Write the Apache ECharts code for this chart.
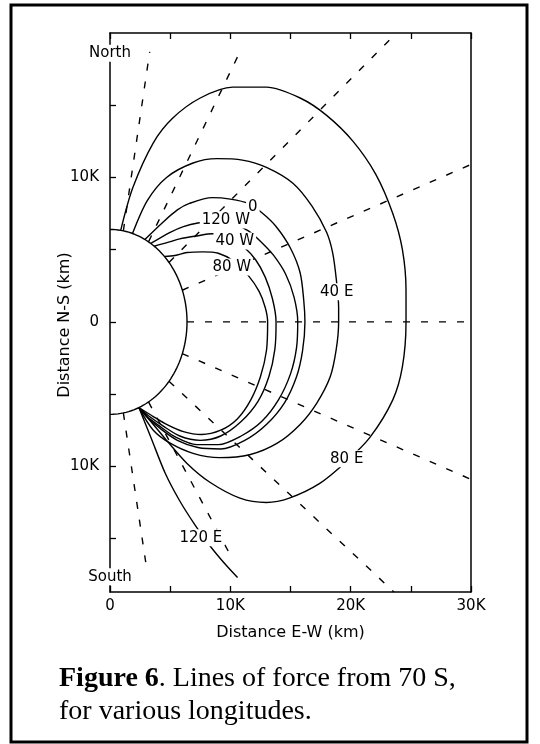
<!DOCTYPE html>
<html><head><meta charset="utf-8">
<script src="https://cdn.jsdelivr.net/npm/echarts@6/dist/echarts.min.js"></script>
<style>html,body{margin:0;padding:0;background:#fff}#c{width:540px;height:744px}</style>
</head><body><div id="c"></div>
<script>
// ---- data (thousands of km) ----
const xTickValues = [0, 5, 10, 15, 20, 25, 30];
const xTickLabels = ['0', '', '10K', '', '20K', '', '30K'];
const yTickValues = [-15, -10, -5, 0, 5, 10, 15];
const yLabelValues = [-10, 0, 10];
const yLabelTexts = ['10K', '0', '10K'];
const planetRadius = 6.4;

const line80E = [[0.89,6.34],[1.9,9.3],[3.6,12.4],[5.2,14.1],[7.5,15.5],[10.2,16.25],[13.0,16.25],[15.8,15.5],[18.0,14.3],[20.2,12.5],[22.1,10.2],[23.5,7.5],[24.3,5.0],[24.6,2.2],[24.6,0],[24.3,-3.1],[23.5,-5.4],[21.6,-8.0],[19.6,-9.7],[17.4,-11.2],[14.9,-12.2],[13.0,-12.5],[10.8,-12.2],[8.3,-11.1],[6.4,-9.8],[4.7,-8.2],[3.6,-7.1],[2.4,-5.93]];
const line40E = [[1.87,6.12],[3.1,8.4],[4.7,10.0],[6.9,11.0],[8.9,11.3],[11.0,11.2],[13.0,10.7],[15.2,9.6],[16.8,8.0],[18.0,6.2],[18.5,4.8],[18.8,3.0],[19.0,1.0],[19.0,0],[18.8,-1.9],[18.3,-3.8],[17.2,-5.6],[15.8,-7.1],[13.9,-8.4],[11.6,-9.2],[9.1,-9.4],[6.9,-9.1],[5.0,-8.4],[3.6,-7.5],[2.4,-5.93]];
const line0 = [[2.9,5.7],[4.4,6.9],[5.6,7.75],[6.6,8.2],[8.5,8.6],[10.0,8.5],[11.5,8.2],[12.7,7.5],[13.8,6.6],[15.0,5.1],[15.8,3.4],[16.1,1.5],[16.2,0],[16.0,-2.0],[15.5,-3.8],[14.5,-5.6],[13.0,-7.1],[11.2,-8.2],[9.2,-8.8],[7.3,-8.7],[5.6,-8.2],[4.2,-7.4],[3.1,-6.6],[2.4,-5.93]];
const line120W = [[3.39,5.43],[5.0,6.2],[6.1,6.6],[7.3,6.85],[8.7,6.95],[10.2,6.8],[11.5,6.3],[12.6,5.5],[13.6,4.6],[14.6,3.3],[15.3,1.7],[15.6,0],[15.5,-1.8],[15.0,-3.6],[14.0,-5.4],[12.6,-6.9],[10.9,-7.9],[9.0,-8.5],[7.2,-8.5],[5.5,-8.0],[4.1,-7.2],[3.0,-6.5],[2.4,-5.93]];
const line40W = [[3.67,5.24],[4.8,5.5],[5.8,5.75],[7.2,5.95],[8.5,6.1],[9.9,5.9],[11.1,5.2],[12.1,4.3],[12.9,3.1],[13.5,1.6],[13.8,0],[13.7,-1.9],[13.2,-3.8],[12.3,-5.5],[10.9,-6.9],[9.2,-7.9],[7.5,-8.2],[5.8,-7.9],[4.4,-7.2],[3.2,-6.5],[2.4,-5.93]];
const line80W = [[4.53,4.53],[5.4,4.6],[6.4,4.8],[7.7,4.85],[9.0,4.75],[10.3,4.2],[11.5,3.2],[12.4,2.1],[12.9,1.0],[13.1,0],[13.0,-2.0],[12.5,-3.8],[11.7,-5.4],[10.6,-6.7],[9.2,-7.5],[7.6,-7.8],[6.1,-7.6],[4.7,-7.1],[3.5,-6.5],[2.4,-5.93]];
const line120E = [[2.4,-5.93],[3.4,-8.0],[4.6,-10.5],[5.8,-12.4],[7.1,-14.1],[8.4,-15.6],[9.6,-16.8],[10.6,-17.7]];

const curveNames = ['80 E', '40 E', '0', '120 W', '40 W', '80 W', '120 E'];
const curveLabelPos = [[19.67,-9.48],[18.84,2.08],[11.87,7.96],[9.63,7.06],[10.37,5.6],[10.12,3.8],[7.55,-14.95]];
const poleNames = ['North', 'South'];
const poleLabelPos = [[0, 18.6], [0, -17.65]];

// radial latitude lines: [start on surface, end]
const radialLines = [
  [[1.11,6.3],[3.3,18.7]],
  [[3.2,5.54],[10.95,18.96]],
  [[4.9,4.11],[23.8,20.0]],
  [[6.0,2.19],[30,10.9]],
  [[6.4,0],[30,0]],
  [[6.0,-2.19],[30,-10.9]],
  [[4.9,-4.11],[23.6,-18.7]],
  [[3.2,-5.54],[10.1,-16.3]],
  [[1.11,-6.3],[3.07,-17.2]]
];

const FONT = 'DejaVu Sans';
const fieldLines = [line80E, line40E, line0, line120W, line40W, line80W, line120E];

const series = [];
radialLines.forEach(function (seg) {
  series.push({ type: 'line', data: seg, showSymbol: false, silent: true,
    lineStyle: { color: '#000', width: 1.4, type: [7, 11] }, z: 2 });
});
fieldLines.forEach(function (d) {
  series.push({ type: 'line', data: d, showSymbol: false, smooth: 0.3, silent: true,
    lineStyle: { color: '#000', width: 1.4 }, z: 3 });
});
series.push({
  type: 'custom', data: [[0, 0, planetRadius]], encode: { x: 0, y: 1 }, z: 4, silent: true,
  renderItem: function (params, api) {
    const r = api.value(2);
    const pts = [];
    for (let a = -90; a <= 90; a += 2) {
      const t = a * Math.PI / 180;
      pts.push(api.coord([r * Math.cos(t), r * Math.sin(t)]));
    }
    return { type: 'polyline', shape: { points: pts }, style: { stroke: '#000', lineWidth: 1.4, fill: null } };
  }
});
const labelStyle = { show: true, position: 'inside', formatter: '{b}', color: '#000', fontFamily: FONT, fontSize: 15,
  backgroundColor: '#fff', padding: [1, 2], textBorderWidth: 0, textBorderColor: 'transparent', opacity: 1 };
series.push({
  type: 'scatter', z: 10, symbolSize: 1, itemStyle: { color: '#fff', opacity: 1 }, silent: true,
  data: curveLabelPos.map(function (p, i) { return { value: p, name: curveNames[i] }; }),
  label: labelStyle
});
series.push({
  type: 'scatter', z: 10, symbolSize: 1, itemStyle: { color: '#fff', opacity: 1 }, silent: true, clip: false,
  data: poleLabelPos.map(function (p, i) { return { value: p, name: poleNames[i] }; }),
  label: labelStyle
});

const axisLineStyle = { show: true, onZero: false, lineStyle: { color: '#000', width: 1.5 } };
const chart = echarts.init(document.getElementById('c'), null, { renderer: 'canvas' });
chart.setOption({
  animation: false,
  backgroundColor: '#fff',
  grid: { left: 110, top: 33, width: 361, height: 559 },
  xAxis: [{
    type: 'value', min: 0, max: 30, interval: 5, position: 'bottom',
    axisLine: axisLineStyle, splitLine: { show: false },
    axisTick: { show: true, inside: true, length: 6, lineStyle: { color: '#000', width: 1.3 } },
    axisLabel: { color: '#000', fontFamily: FONT, fontSize: 15, margin: 7,
      formatter: function (v) { const i = xTickValues.indexOf(v); return i >= 0 ? xTickLabels[i] : ''; } },
    name: 'Distance E-W (km)', nameLocation: 'middle', nameGap: 33,
    nameTextStyle: { color: '#000', fontFamily: FONT, fontSize: 16 }
  }, {
    type: 'value', min: 0, max: 30, interval: 5, position: 'top',
    axisLine: axisLineStyle, splitLine: { show: false }, axisLabel: { show: false },
    axisTick: { show: true, inside: true, length: 6, lineStyle: { color: '#000', width: 1.3 } }
  }],
  yAxis: [{
    type: 'value', min: -18.7, max: 20, position: 'left',
    axisLine: axisLineStyle, splitLine: { show: false },
    axisTick: { show: true, inside: true, length: 6, customValues: yTickValues, lineStyle: { color: '#000', width: 1.3 } },
    axisLabel: { color: '#000', fontFamily: FONT, fontSize: 15, margin: 11, customValues: yLabelValues,
      formatter: function (v) { const i = yLabelValues.indexOf(v); return i >= 0 ? yLabelTexts[i] : ''; } }
  }, {
    type: 'value', min: -18.7, max: 20, position: 'right',
    axisLine: axisLineStyle, splitLine: { show: false }, axisLabel: { show: false }, axisTick: { show: false }
  }],
  graphic: [
    { type: 'rect', shape: { x: 11, y: 5, width: 516, height: 737 }, style: { fill: null, stroke: '#000', lineWidth: 3 }, z: 100 },
    { type: 'text', x: 65, y: 325, rotation: Math.PI / 2,
      style: { text: 'Distance N-S (km)', font: '16px "DejaVu Sans"', fill: '#000', align: 'center', verticalAlign: 'middle' } },
    { type: 'text', x: 59, y: 665,
      style: { text: '{b|Figure 6}{r|. Lines of force from 70 S,}', fill: '#000', verticalAlign: 'top',
        rich: { b: { fontFamily: 'Liberation Serif', fontSize: 28, fontWeight: 'bold', fill: '#000' },
                r: { fontFamily: 'Liberation Serif', fontSize: 28, fill: '#000' } } } },
    { type: 'text', x: 59, y: 698,
      style: { text: 'for various longitudes.', font: '28px "Liberation Serif"', fill: '#000', verticalAlign: 'top' } }
  ],
  series: series
});
</script></body></html>
